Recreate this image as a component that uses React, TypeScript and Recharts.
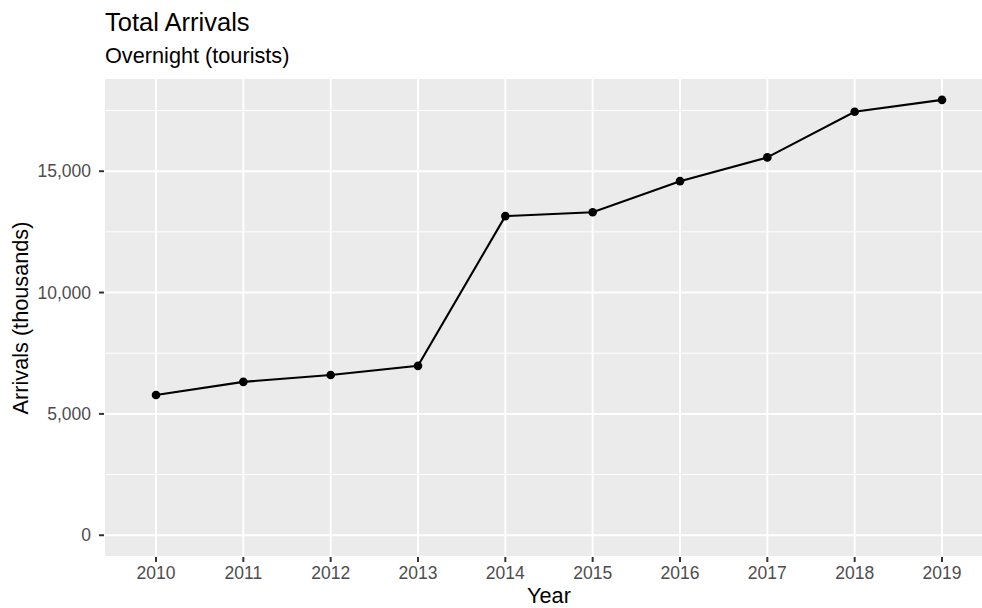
import React from 'react';
import { LineChart, Line, XAxis, YAxis, CartesianGrid, ReferenceLine } from 'recharts';

const years = ['2010', '2011', '2012', '2013', '2014', '2015', '2016', '2017', '2018', '2019'];
const arrivals = [5780, 6320, 6600, 6980, 13150, 13310, 14590, 15570, 17450, 17940];
const yTicks = [0, 5000, 10000, 15000];
const yMinorTicks = [2500, 7500, 12500, 17500];

const data = years.map((y, i) => ({ year: y, arrivals: arrivals[i] }));

const FONT = '"Liberation Sans", Arial, Helvetica, sans-serif';

export default function App() {
  return (
    <div
      style={{
        position: 'absolute',
        left: 0,
        top: 0,
        width: 982,
        height: 608,
        overflow: 'hidden',
        background: '#FFFFFF',
      }}
    >
      <LineChart
        width={1000}
        height={608}
        data={data}
        margin={{ top: 78, right: 6, bottom: 0, left: 0 }}
      >
        <CartesianGrid fill="#EBEBEB" stroke="#FFFFFF" strokeWidth={2} />
        {yMinorTicks.map((v) => (
          <ReferenceLine key={v} y={v} stroke="#FFFFFF" strokeWidth={1} />
        ))}
        <XAxis
          dataKey="year"
          type="category"
          scale="point"
          height={51}
          padding={{ left: 52, right: 52 }}
          axisLine={false}
          tickLine={{ stroke: '#333333', strokeWidth: 2 }}
          tickSize={5}
          tickMargin={5}
          interval={0}
          tick={{ fill: '#4D4D4D', fontSize: 17.5, fontFamily: FONT }}
        />
        <YAxis
          type="number"
          domain={[-897, 18841]}
          ticks={yTicks}
          allowDataOverflow
          width={104}
          axisLine={false}
          tickLine={{ stroke: '#333333', strokeWidth: 2 }}
          tickSize={5}
          tickMargin={8}
          tickFormatter={(v: number) => v.toLocaleString('en-US')}
          tick={{ fill: '#4D4D4D', fontSize: 17.5, fontFamily: FONT }}
        />
        <Line
          type="linear"
          dataKey="arrivals"
          stroke="#000000"
          strokeWidth={2.1}
          dot={{ r: 4.3, fill: '#000000', stroke: '#000000', strokeWidth: 0 }}
          activeDot={false}
          isAnimationActive={false}
        />
      </LineChart>
      <svg
        width={982}
        height={608}
        style={{ position: 'absolute', left: 0, top: 0, pointerEvents: 'none' }}
      >
        <text x={105} y={31} fontFamily={FONT} fontSize={25.5} fill="#000000">
          Total Arrivals
        </text>
        <text x={105} y={63} fontFamily={FONT} fontSize={21.7} fill="#000000">
          Overnight (tourists)
        </text>
        <text x={549} y={603} textAnchor="middle" fontFamily={FONT} fontSize={21.7} fill="#000000">
          Year
        </text>
        <text
          x={28}
          y={318}
          textAnchor="middle"
          fontFamily={FONT}
          fontSize={21.7}
          fill="#000000"
          transform="rotate(-90, 28, 318)"
        >
          Arrivals (thousands)
        </text>
      </svg>
    </div>
  );
}
